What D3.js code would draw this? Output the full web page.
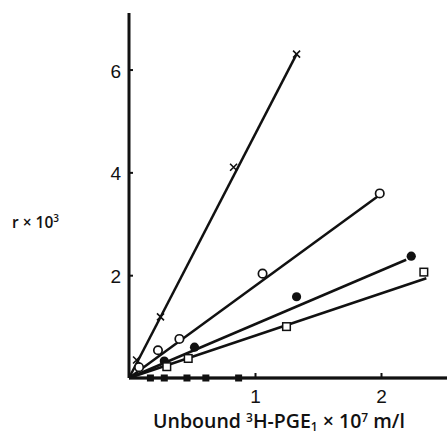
<!DOCTYPE html>
<html>
<head>
<meta charset="utf-8">
<script src="https://cdn.jsdelivr.net/npm/d3@7"></script>
<style>
  body { margin: 0; background: #fff; }
  svg { display: block; font-family: "Open Sans", "DejaVu Sans", sans-serif; }
  .tick text { font-size: 19px; fill: #111; }
</style>
</head>
<body>
<svg width="447" height="437"></svg>
<script>
// values (x: unbound 3H-PGE1 x 10^7 m/l, y: r x 10^3)
const crossX = [0.06, 0.25, 0.83, 1.33];
const crossY = [0.35, 1.19, 4.1, 6.3];
const openCircleX = [0.08, 0.23, 0.40, 1.06, 1.99];
const openCircleY = [0.21, 0.54, 0.76, 2.03, 3.59];
const fillCircleX = [0.28, 0.52, 1.33, 2.24];
const fillCircleY = [0.33, 0.60, 1.58, 2.37];
const openSquareX = [0.30, 0.47, 1.25, 2.34];
const openSquareY = [0.22, 0.38, 1.0, 2.06];
const fillSquareX = [0.17, 0.28, 0.46, 0.61, 0.87];
const fillSquareY = [0, 0, 0, 0, 0];
// fitted lines drawn in the figure, from origin to end point
const lineEnds = [[1.33, 6.3], [2.0, 3.58], [2.2, 2.3], [2.36, 1.94], [2.55, 0]];
const xTicks = [1, 2];
const yTicks = [2, 4, 6];

const svg = d3.select('svg');
const x = d3.scaleLinear().domain([0, 2.5]).range([129, 444]);
const y = d3.scaleLinear().domain([0, 7.1]).range([378, 13]);

const zip = (a, b) => a.map((v, i) => [v, b[i]]);

// fitted lines
svg.append('g').selectAll('line')
  .data(lineEnds).enter().append('line')
  .attr('x1', x(0)).attr('y1', y(0))
  .attr('x2', d => x(d[0])).attr('y2', d => y(d[1]))
  .attr('stroke', '#111').attr('stroke-width', 2.5);

// axes
const yAxis = svg.append('g')
  .attr('transform', `translate(${x(0)},0)`)
  .call(d3.axisRight(y).tickValues(yTicks).tickSize(4).tickFormat(d3.format('d')));
yAxis.select('.domain').attr('stroke', '#111').attr('stroke-width', 3)
  .attr('d', `M0,${y(7.1)}V${y(0)}`);
yAxis.selectAll('.tick line').attr('stroke', '#111').attr('stroke-width', 2);
yAxis.selectAll('.tick text').attr('x', -8).attr('text-anchor', 'end').attr('dy', '0.4em');

const xAxis = svg.append('g')
  .attr('transform', `translate(0,${y(0)})`)
  .call(d3.axisTop(x).tickValues(xTicks).tickSize(5).tickFormat(d3.format('d')));
xAxis.select('.domain').attr('stroke', '#111').attr('stroke-width', 3)
  .attr('d', `M${x(0)},0H447`);
xAxis.selectAll('.tick line').attr('stroke', '#111').attr('stroke-width', 2);
xAxis.selectAll('.tick text').attr('y', 19).attr('dy', '0.3em');

const pts = svg.append('g');

// white fill so lines break at open markers
pts.selectAll('.oc').data(zip(openCircleX, openCircleY)).enter().append('circle')
  .attr('cx', d => x(d[0])).attr('cy', d => y(d[1])).attr('r', 4.2)
  .attr('fill', '#fff').attr('stroke', '#111').attr('stroke-width', 1.7);

pts.selectAll('.fc').data(zip(fillCircleX, fillCircleY)).enter().append('circle')
  .attr('cx', d => x(d[0])).attr('cy', d => y(d[1])).attr('r', 4.6)
  .attr('fill', '#111');

pts.selectAll('.os').data(zip(openSquareX, openSquareY)).enter().append('rect')
  .attr('x', d => x(d[0]) - 3.8).attr('y', d => y(d[1]) - 3.8)
  .attr('width', 7.6).attr('height', 7.6)
  .attr('fill', '#fff').attr('stroke', '#111').attr('stroke-width', 1.5);

pts.selectAll('.fs').data(zip(fillSquareX, fillSquareY)).enter().append('rect')
  .attr('x', d => x(d[0]) - 3.5).attr('y', d => y(d[1]) - 3.5)
  .attr('width', 7).attr('height', 7)
  .attr('fill', '#111');

pts.selectAll('.cx').data(zip(crossX, crossY)).enter().append('path')
  .attr('d', d => {
    const cx = x(d[0]), cy = y(d[1]), s = 3.5;
    return `M${cx - s},${cy - s}L${cx + s},${cy + s}M${cx - s},${cy + s}L${cx + s},${cy - s}`;
  })
  .attr('stroke', '#111').attr('stroke-width', 1.6);

// labels
svg.append('text')
  .attr('x', 12).attr('y', 228)
  .attr('font-size', 15.5).attr('font-weight', 600).attr('fill', '#111')
  .html('r × 10<tspan dy="-6" font-size="10">3</tspan>');

svg.append('text')
  .attr('x', 279).attr('y', 428).attr('text-anchor', 'middle')
  .attr('font-size', 19.5).attr('font-weight', 600).attr('fill', '#111')
  .html('Unbound <tspan dy="-6" font-size="12">3</tspan><tspan dy="6">H-PGE</tspan><tspan dy="3" font-size="12">1</tspan><tspan dy="-3"> × 10</tspan><tspan dy="-6" font-size="12">7</tspan><tspan dy="6"> m/l</tspan>');
</script>
</body>
</html>
